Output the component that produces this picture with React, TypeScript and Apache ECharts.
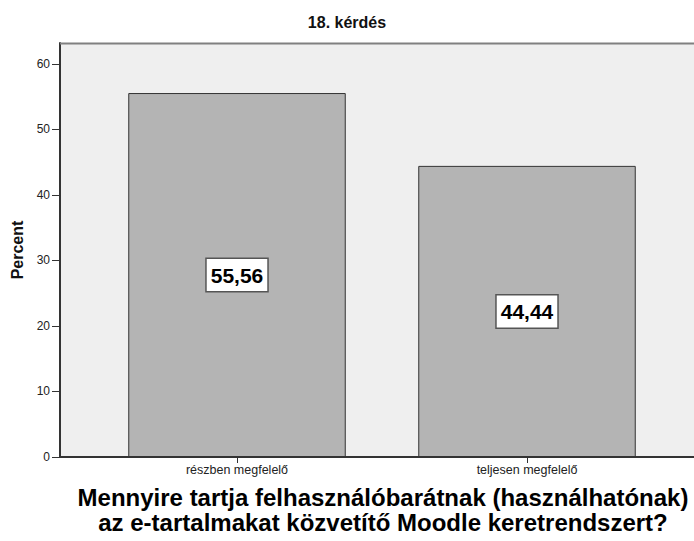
import React, { useEffect, useRef } from "react";
import * as echarts from "echarts";

const categories = ["részben megfelelő", "teljesen megfelelő"];
const percentValues = [55.56, 44.44];
const valueLabels = ["55,56", "44,44"];
const yTicks = [0, 10, 20, 30, 40, 50, 60];
const chartTitle = "18. kérdés";
const yAxisTitle = "Percent";
const xAxisTitleLines = [
  "Mennyire tartja felhasználóbarátnak (használhatónak)",
  "az e-tartalmakat közvetítő Moodle keretrendszert?",
];

const FONT = "'Liberation Sans', Arial, sans-serif";

export default function App() {
  const ref = useRef<HTMLDivElement>(null);
  useEffect(() => {
    document.body.style.margin = "0";
    if (!ref.current) return;
    const chart = echarts.init(ref.current, null, { renderer: "svg" });
    const W = 694;
    const plotLeft = 60;
    const plotTop = 43;
    const plotBottom = 457;
    chart.setOption({
      animation: false,
      backgroundColor: "#ffffff",
      title: {
        text: chartTitle,
        left: "center",
        top: 9,
        textStyle: { fontFamily: FONT, fontSize: 16, fontWeight: "bold", color: "#111" },
      },
      grid: { left: 92, right: 22, top: plotTop, bottom: 541 - plotBottom },
      graphic: [
        {
          type: "rect",
          z: -10,
          shape: { x: plotLeft, y: plotTop, width: W - plotLeft + 10, height: plotBottom - plotTop },
          style: { fill: "#efefef" },
        },
        {
          type: "line",
          z: 10,
          shape: { x1: plotLeft, y1: plotTop + 0.5, x2: W + 5, y2: plotTop + 0.5 },
          style: { stroke: "#808080", lineWidth: 2 },
        },
        {
          type: "line",
          z: 10,
          shape: { x1: plotLeft - 1, y1: plotBottom, x2: W + 5, y2: plotBottom },
          style: { stroke: "#333", lineWidth: 2 },
        },
        ...xAxisTitleLines.map((line, i) => ({
          type: "text",
          x: 383,
          y: 485 + i * 25,
          style: {
            text: line,
            align: "center",
            verticalAlign: "top",
            font: `bold 24px ${FONT}`,
            fill: "#000",
          },
        })),
      ],
      xAxis: {
        type: "category",
        data: categories,
        axisLine: { show: false },
        axisTick: { show: true, alignWithLabel: true, length: 6, lineStyle: { color: "#333", width: 1 } },
        axisLabel: { fontFamily: FONT, fontSize: 12.5, color: "#222", margin: 6 },
      },
      yAxis: {
        type: "value",
        min: 0,
        max: 63.2,
        interval: 10,
        offset: 32,
        name: yAxisTitle,
        nameLocation: "middle",
        nameGap: 33,
        nameTextStyle: { fontFamily: FONT, fontSize: 16, fontWeight: "bold", color: "#111" },
        axisLine: { show: true, lineStyle: { color: "#333", width: 2 } },
        axisTick: {
          show: true,
          length: 8,
          customValues: yTicks,
          lineStyle: { color: "#333", width: 1 },
        },
        axisLabel: {
          fontFamily: FONT,
          fontSize: 12,
          color: "#222",
          margin: 10,
          customValues: yTicks,
        },
        splitLine: { show: false },
      },
      series: [
        {
          type: "bar",
          barWidth: "75%",
          data: percentValues,
          itemStyle: { color: "#b4b4b4", borderColor: "#333", borderWidth: 1 },
          label: {
            show: true,
            position: "inside",
            formatter: (p: any) => valueLabels[p.dataIndex],
            fontFamily: FONT,
            fontSize: 21,
            fontWeight: "bold",
            color: "#000",
            backgroundColor: "#ffffff",
            borderColor: "#555",
            borderWidth: 1.5,
            padding: [6, 4, 5, 4],
          },
        },
      ],
    });
    return () => chart.dispose();
  }, []);
  return <div ref={ref} style={{ width: 694, height: 541 }} />;
}
